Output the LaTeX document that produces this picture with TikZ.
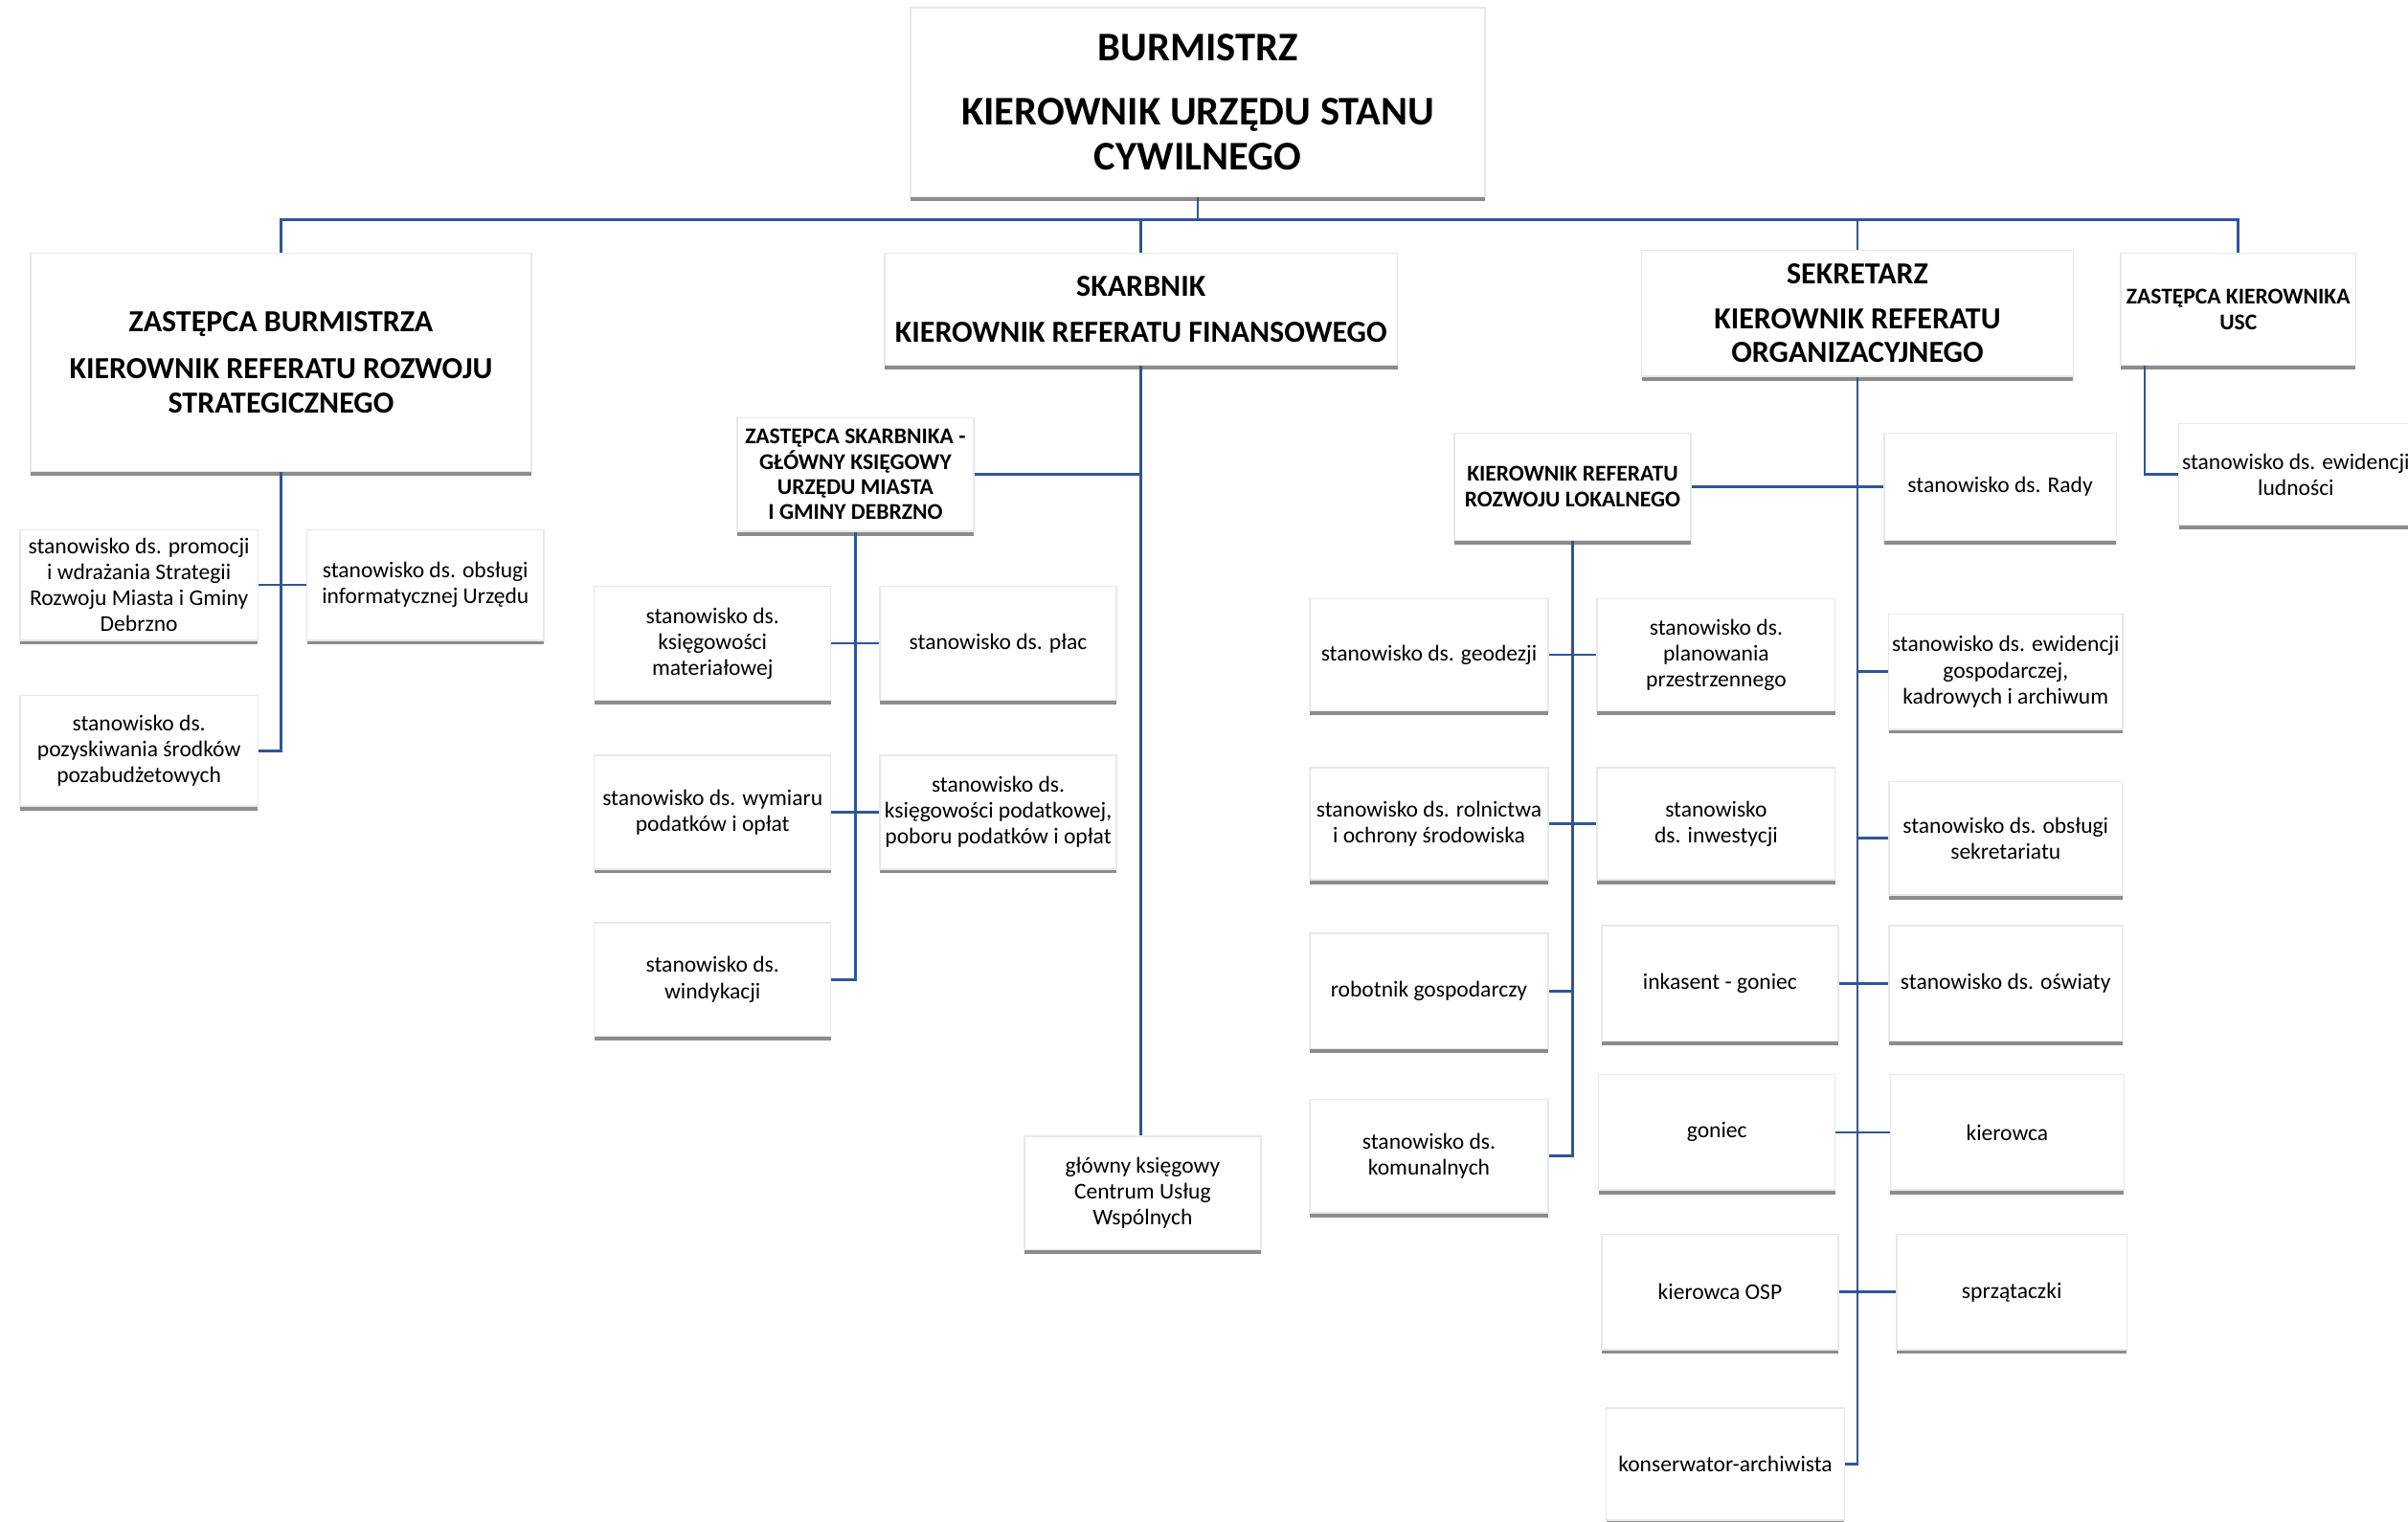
\documentclass[tikz,border=0pt]{standalone}
\usepackage{fontspec}
\setmainfont{Carlito}
\usetikzlibrary{shadows}
\definecolor{lineblue}{RGB}{47,85,151}
\tikzset{
  box/.style={draw=gray!18, fill=white, align=center, inner sep=1pt,
    drop shadow={shadow xshift=0pt, shadow yshift=-1.3pt, opacity=0.6, fill=black!75}},
  body/.style={box, font=\fontsize{6.7}{7.7}\selectfont},
  head/.style={box, font=\bfseries\fontsize{9.1}{10}\selectfont},
  top head/.style={box, font=\bfseries\fontsize{12.1}{13.4}\selectfont},
  small head/.style={box, font=\bfseries\fontsize{6.7}{7.5}\selectfont},
  conn/.style={draw=lineblue, line width=0.75pt},
}
\newcommand\bx[7]{\node[#6, minimum width={(#4-#2)*0.456383pt}, minimum height={(#5-#3)*0.456383pt}] (#1) at ({(#2+#4)/2},{(#3+#5)/2}) {#7};}
\begin{document}
\begin{tikzpicture}[x=0.456383pt,y=-0.456383pt]
\useasboundingbox (0,0) rectangle (1568,991);
\fill[white] (0,0) rectangle (1568,991);

% level 0 and 1
\bx{top}{593}{5}{967}{128}{top head}{BURMISTRZ\\[5.5pt]KIEROWNIK URZĘDU STANU\\CYWILNEGO}
\bx{zb}{20}{165}{346}{307}{head}{ZASTĘPCA BURMISTRZA\\[4pt]KIEROWNIK REFERATU ROZWOJU\\STRATEGICZNEGO}
\bx{sk}{576}{165}{910}{238}{head}{SKARBNIK\\[3.5pt]KIEROWNIK REFERATU FINANSOWEGO}
\bx{sek}{1069}{163}{1350}{245}{head}{SEKRETARZ\\[3.5pt]KIEROWNIK REFERATU\\ORGANIZACYJNEGO}
\bx{zk}{1381}{165}{1534}{238}{small head}{ZASTĘPCA KIEROWNIKA\\USC}

% left branch
\bx{prom}{13}{345}{168}{417}{body}{stanowisko ds. promocji\\i wdrażania Strategii\\Rozwoju Miasta i Gminy\\Debrzno}
\bx{inf}{200}{345}{354}{417}{body}{stanowisko ds. obsługi\\informatycznej Urzędu}
\bx{poz}{13}{453}{168}{525}{body}{stanowisko ds.\\pozyskiwania środków\\pozabudżetowych}

% skarbnik branch
\bx{zs}{480}{272}{634}{346}{small head}{ZASTĘPCA SKARBNIKA -\\GŁÓWNY KSIĘGOWY\\URZĘDU MIASTA\\I GMINY DEBRZNO}
\bx{km}{387}{382}{541}{456}{body}{stanowisko ds.\\księgowości\\materiałowej}
\bx{plac}{573}{382}{727}{456}{body}{stanowisko ds. płac}
\bx{wym}{387}{492}{541}{566}{body}{stanowisko ds. wymiaru\\podatków i opłat}
\bx{pod}{573}{492}{727}{566}{body}{stanowisko ds.\\księgowości podatkowej,\\poboru podatków i opłat}
\bx{win}{387}{601}{541}{675}{body}{stanowisko ds.\\windykacji}
\bx{cuw}{667}{740}{821}{814}{body}{główny księgowy\\Centrum Usług\\Wspólnych}

% sekretarz branch
\bx{krrl}{947}{282}{1101}{352}{small head}{KIEROWNIK REFERATU\\ROZWOJU LOKALNEGO}
\bx{rady}{1227}{282}{1378}{352}{body}{stanowisko ds. Rady}
\bx{geo}{853}{390}{1008}{463}{body}{stanowisko ds. geodezji}
\bx{plan}{1040}{390}{1195}{463}{body}{stanowisko ds.\\planowania\\przestrzennego}
\bx{rol}{853}{500}{1008}{573}{body}{stanowisko ds. rolnictwa\\i ochrony środowiska}
\bx{inw}{1040}{500}{1195}{573}{body}{stanowisko\\ds. inwestycji}
\bx{rob}{853}{608}{1008}{683}{body}{robotnik gospodarczy}
\bx{kom}{853}{716}{1008}{790}{body}{stanowisko ds.\\komunalnych}
\bx{ewg}{1230}{400}{1382}{475}{body}{stanowisko ds. ewidencji\\gospodarczej,\\kadrowych i archiwum}
\bx{obs}{1230}{509}{1382}{583}{body}{stanowisko ds. obsługi\\sekretariatu}
\bx{ink}{1043}{603}{1197}{678}{body}{inkasent - goniec}
\bx{osw}{1230}{603}{1382}{678}{body}{stanowisko ds. oświaty}
\bx{gon}{1041}{700}{1195}{775}{body}{goniec}
\bx{kier}{1231}{700}{1383}{775}{body}{kierowca}
\bx{osp}{1043}{804}{1197}{879}{body}{kierowca OSP}
\bx{sprz}{1235}{804}{1385}{879}{body}{sprzątaczki}
\bx{kons}{1046}{917}{1201}{990}{body}{konserwator-archiwista}

% USC branch
\bx{lud}{1419}{276}{1571}{342}{body}{stanowisko ds. ewidencji\\ludności}

% connectors
\coordinate (bus) at (780,143);
\draw[conn] (top.south) -- (top.south |- bus);
\draw[conn] (zb.north) -- (zb.north |- bus) -- (zk.north |- bus) -- (zk.north);
\draw[conn] (sk.north) -- (sk.north |- bus);
\draw[conn] (sek.north) -- (sek.north |- bus);

\draw[conn] (zb.south) |- (poz.east);
\draw[conn] (prom.east) -- (inf.west);

\draw[conn] (sk.south) -- (sk.south |- cuw.north);
\draw[conn] (zs.east) -- (zs.east -| sk.south);
\draw[conn] (zs.south) |- (win.east);
\draw[conn] (km.east) -- (plac.west);
\draw[conn] (wym.east) -- (pod.west);

\draw[conn] (sek.south) |- (kons.east);
\draw[conn] (krrl.east) -- (rady.west);
\draw[conn] (krrl.south) |- (kom.east);
\draw[conn] (geo.east) -- (plan.west);
\draw[conn] (rol.east) -- (inw.west);
\draw[conn] (rob.east) -- (rob.east -| krrl.south);
\draw[conn] (ewg.west) -- (ewg.west -| sek.south);
\draw[conn] (obs.west) -- (obs.west -| sek.south);
\draw[conn] (ink.east) -- (osw.west);
\draw[conn] (gon.east) -- (kier.west);
\draw[conn] (osp.east) -- (sprz.west);

\draw[conn] ([xshift=7.3pt]zk.south west) |- (lud.west);
\end{tikzpicture}
\end{document}
